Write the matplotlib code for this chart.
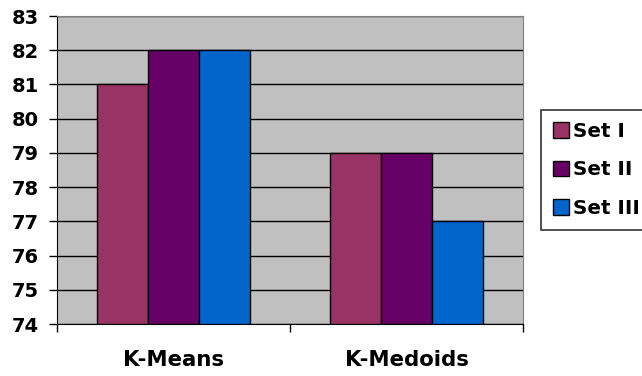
import matplotlib.pyplot as plt
import numpy as np

plt.rcParams['font.family'] = ['DejaVu Sans']
plt.rcParams['font.weight'] = 'bold'

categories = ['K-Means', 'K-Medoids']
series = ['Set I', 'Set II', 'Set III']
values = [[81, 79], [82, 79], [82, 77]]
colors = ['#993366', '#660066', '#0066CC']

fig = plt.figure(figsize=(6.42, 3.76), dpi=100)
ax = fig.add_axes([57 / 642, 1 - 324 / 376, (523 - 57) / 642, (324 - 16) / 376])
ax.set_facecolor('#C0C0C0')

x = np.arange(len(categories))
w = 0.22
for i, (name, vals) in enumerate(zip(series, values)):
    ax.bar(x + (i - 1) * w, np.array(vals) - 74, w, bottom=74, color=colors[i],
           edgecolor='black', linewidth=1, label=name, zorder=3)

ax.set_xlim(-0.5, 1.5)
ax.set_ylim(74, 83)
ax.set_yticks(range(74, 84))
ax.yaxis.grid(True, color='black', linewidth=1, zorder=1)
ax.set_axisbelow(True)

ax.set_xticks([-0.5, 0.5, 1.5])
ax.set_xticklabels([])
ax.set_xticks(x, minor=True)
ax.set_xticklabels(categories, minor=True, fontsize=15.3, fontweight='bold')
ax.tick_params(axis='x', which='minor', length=0, pad=18.5)
ax.tick_params(axis='x', which='major', length=5.5, width=1, direction='out')
ax.tick_params(axis='y', length=6, width=1, labelsize=14, pad=7)

for s in ['top', 'right']:
    ax.spines[s].set_color('#808080')
for s in ['left', 'bottom']:
    ax.spines[s].set_color('black')

leg = fig.legend(loc='upper left', bbox_to_anchor=(541 / 642, 1 - 110 / 376),
                 frameon=True, fancybox=False, edgecolor='black', fontsize=14.3,
                 handlelength=0.8, handleheight=0.8, handletextpad=0.2,
                 borderpad=0.6, labelspacing=0.98, borderaxespad=0)
leg.get_frame().set_linewidth(1.2)

fig.savefig('out.png', dpi=100)
